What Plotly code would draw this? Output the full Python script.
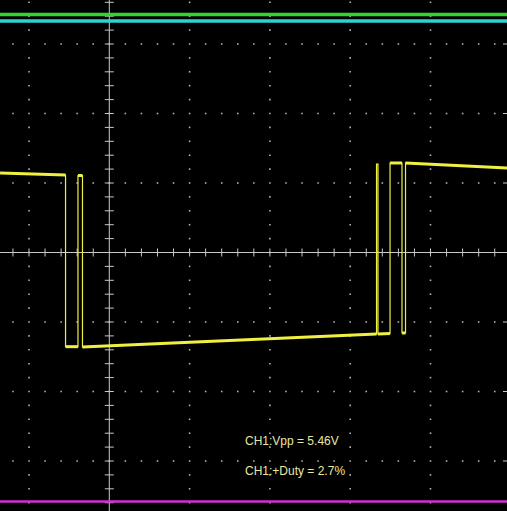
import plotly.graph_objects as go

# ---- data (units: screen divisions) ----
ch1_t = [-1.36, -0.545, -0.545, -0.39, -0.39, -0.334, -0.334, 3.328, 3.328, 3.346, 3.346,
         3.496, 3.496, 3.645, 3.645, 3.689, 3.689, 4.96]
ch1_v = [1.144, 1.115, -1.355, -1.355, 1.108, 1.108, -1.360, -1.173, 1.273, 1.273, -1.173,
         -1.165, 1.288, 1.288, -1.158, -1.158, 1.288, 1.216]
ch2_level = 3.424   # green
ch3_level = 3.331   # cyan
ch4_level = -3.583  # magenta
meas_labels = ["CH1:Vpp = 5.46V", "CH1:+Duty = 2.7%"]
meas_y = [-2.712, -3.144]

# ---- screen geometry ----
W, H = 507, 511
PX_X, PX_Y = 80.3, 69.5          # pixels per division
X0, Y0 = 109.3, 252.5            # pixel position of origin
xr = [-X0 / PX_X, (W - X0) / PX_X]
yr = [-(H - Y0) / PX_Y, Y0 / PX_Y]

fig = go.Figure()

def frange(lo, hi, step):
    k = int(lo / step) - 1
    out = []
    while k * step <= hi + 1e-9:
        v = round(k * step, 6)
        if lo <= v <= hi:
            out.append(v)
        k += 1
    return out

# grid dots
gx, gy = [], []
for r in [-3, -2, -1, 1, 2, 3]:
    for x in frange(xr[0], xr[1], 0.2):
        gx.append(x); gy.append(r)
for c in [-1, 1, 2, 3, 4]:
    for y in frange(yr[0], yr[1], 0.2):
        if abs(y - round(y)) > 1e-6 or round(y) == 0:
            gx.append(c); gy.append(y)
fig.add_trace(go.Scatter(x=gx, y=gy, mode="markers",
                         marker=dict(symbol="square", size=1.6, color="#b0b0b0", line=dict(width=0)),
                         hoverinfo="skip", showlegend=False))

# axis ticks
tx, ty = [], []
hx = 4 / PX_Y
for x in frange(xr[0], xr[1], 0.2):
    if abs(x) > 1e-6:
        tx += [x, x, None]; ty += [-hx, hx, None]
hy = 4.5 / PX_X
for y in frange(yr[0], yr[1], 0.2):
    if abs(y) > 1e-6:
        tx += [-hy, hy, None]; ty += [y, y, None]
for r in [-3, -2, -1, 1, 2, 3]:
    tx += [xr[1] - 4 / PX_X, xr[1], None]; ty += [r, r, None]
fig.add_trace(go.Scatter(x=tx, y=ty, mode="lines", line=dict(color="#c8c8c8", width=1),
                         hoverinfo="skip", showlegend=False))

# center axes
fig.add_trace(go.Scatter(x=[xr[0], xr[1], None, 0, 0], y=[0, 0, None, yr[0], yr[1]],
                         mode="lines", line=dict(color="#c8c8c8", width=1),
                         hoverinfo="skip", showlegend=False))

# channel traces
fig.add_trace(go.Scatter(x=[xr[0], xr[1]], y=[ch2_level, ch2_level], mode="lines",
                         line=dict(color="#2fd62f", width=3.5), hoverinfo="skip", showlegend=False))
fig.add_trace(go.Scatter(x=[xr[0], xr[1]], y=[ch3_level, ch3_level], mode="lines",
                         line=dict(color="#30d0d8", width=3.5), hoverinfo="skip", showlegend=False))
fig.add_trace(go.Scatter(x=[xr[0], xr[1]], y=[ch4_level, ch4_level], mode="lines",
                         line=dict(color="#d030d0", width=2.5), hoverinfo="skip", showlegend=False))

# CH1: thin edges, thicker (noisy) levels
fig.add_trace(go.Scatter(x=ch1_t, y=ch1_v, mode="lines",
                         line=dict(color="#f0f040", width=1.2), hoverinfo="skip", showlegend=False))
lx, ly = [], []
for i in range(len(ch1_t) - 1):
    if ch1_t[i + 1] - ch1_t[i] > 0.03:
        lx += [ch1_t[i], ch1_t[i + 1], None]; ly += [ch1_v[i], ch1_v[i + 1], None]
fig.add_trace(go.Scatter(x=lx, y=ly, mode="lines",
                         line=dict(color="#f0f040", width=3), hoverinfo="skip", showlegend=False))

for lab, yy in zip(meas_labels, meas_y):
    fig.add_annotation(x=(243 - X0) / PX_X, y=yy, text=lab, showarrow=False,
                       xanchor="left", yanchor="middle",
                       font=dict(family="Liberation Sans, Arial", size=12, color="#e8e8a0"))

fig.update_layout(width=W, height=H, margin=dict(l=0, r=0, t=0, b=0),
                  paper_bgcolor="black", plot_bgcolor="black",
                  xaxis=dict(range=xr, visible=False, fixedrange=True),
                  yaxis=dict(range=yr, visible=False, fixedrange=True),
                  showlegend=False)
fig.write_html("out.html", config={"displayModeBar": False},
               post_script="document.body.style.margin='0';document.body.style.background='black';document.body.style.overflow='hidden';")
